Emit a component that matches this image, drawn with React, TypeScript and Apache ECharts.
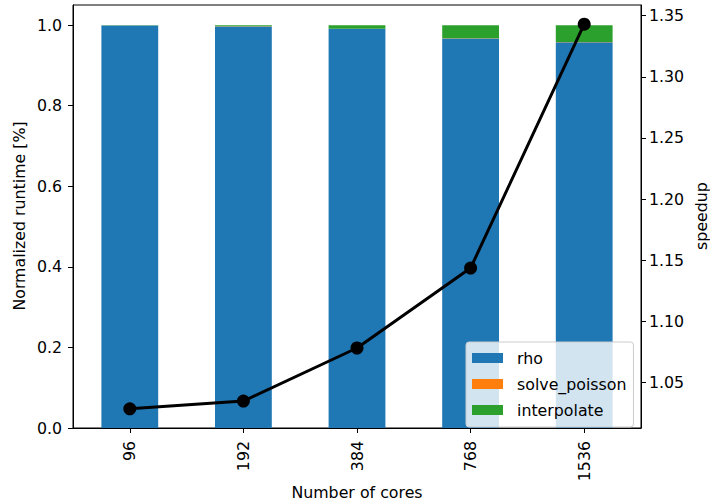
import React, { useEffect, useRef } from "react";
import * as echarts from "echarts";

const cores = ["96", "192", "384", "768", "1536"];
const rho = [0.999, 0.9968, 0.9908, 0.967, 0.9575];
const solvePoisson = [0.0002, 0.0002, 0.0003, 0.0004, 0.0004];
const interpolate = [0.0008, 0.003, 0.0089, 0.0326, 0.0421];
const speedup = [1.0285, 1.0348, 1.0782, 1.1436, 1.343];
const leftTicks = [0, 0.2, 0.4, 0.6, 0.8, 1.0];
const rightTicks = [1.05, 1.1, 1.15, 1.2, 1.25, 1.3, 1.35];

const FONT = "DejaVu Sans";

export default function App() {
  const ref = useRef<HTMLDivElement>(null);
  useEffect(() => {
    if (!ref.current) return;
    const chart = echarts.init(ref.current, null, { renderer: "svg" });
    const sMin = Math.min(...speedup);
    const sMax = Math.max(...speedup);
    const pad = (sMax - sMin) * 0.05;
    const tick = { show: true, length: 5, lineStyle: { color: "#000", width: 1 } };
    const label = { color: "#000", fontFamily: FONT, fontSize: 15.8 };
    const font = `15.8px "${FONT}"`;
    chart.setOption({
      animation: false,
      backgroundColor: "#fff",
      textStyle: { fontFamily: FONT },
      grid: {
        left: 73,
        right: 69,
        top: 5,
        bottom: 75,
        show: true,
        borderColor: "#000",
        borderWidth: 1,
        backgroundColor: "transparent",
        containLabel: false,
        outerBoundsMode: "none",
      },
      legend: {
        data: ["rho", "solve_poisson", "interpolate"],
        orient: "vertical",
        left: 466,
        top: 342,
        itemWidth: 31,
        itemHeight: 10,
        itemGap: 10,
        padding: [8, 7, 9, 6],
        backgroundColor: "rgba(255,255,255,0.8)",
        borderColor: "#cccccc",
        borderWidth: 1,
        borderRadius: 3,
        icon: "rect",
        textStyle: { ...label, lineHeight: 14, padding: [0, 0, 0, 9] },
        selectedMode: false,
      },
      graphic: [
        {
          type: "text",
          x: 701,
          y: 216,
          rotation: Math.PI / 2,
          style: { text: "speedup", fill: "#000", font, align: "center", verticalAlign: "middle" },
        },
        {
          type: "text",
          x: 357,
          y: 492,
          style: { text: "Number of cores", fill: "#000", font, align: "center", verticalAlign: "middle" },
        },
        {
          type: "text",
          x: 19,
          y: 216,
          rotation: Math.PI / 2,
          style: { text: "Normalized runtime [%]", fill: "#000", font, align: "center", verticalAlign: "middle" },
        },
      ],
      xAxis: {
        type: "category",
        data: cores,
        boundaryGap: true,
        axisLine: { show: true, lineStyle: { color: "#000", width: 1 } },
        axisTick: { ...tick, alignWithLabel: true },
        axisLabel: { ...label, rotate: 90, margin: 13 },
        splitLine: { show: false },
      },
      yAxis: [
        {
          type: "value",
          min: 0,
          max: 1.05,
          axisLine: { show: true, lineStyle: { color: "#000", width: 1 } },
          axisTick: { ...tick, customValues: leftTicks },
          axisLabel: {
            ...label,
            margin: 11,
            customValues: leftTicks,
            formatter: (v: number) => v.toFixed(1),
          },
          splitLine: { show: false },
        },
        {
          type: "value",
          position: "right",
          min: sMin - pad,
          max: sMax + pad,
          axisLine: { show: true, lineStyle: { color: "#000", width: 1 } },
          axisTick: { ...tick, customValues: rightTicks },
          axisLabel: {
            ...label,
            margin: 8,
            customValues: rightTicks,
            formatter: (v: number) => v.toFixed(2),
          },
          splitLine: { show: false },
        },
      ],
      series: [
        {
          name: "rho",
          type: "bar",
          stack: "total",
          barWidth: "50%",
          itemStyle: { color: "#1f77b4" },
          data: rho,
        },
        {
          name: "solve_poisson",
          type: "bar",
          stack: "total",
          barWidth: "50%",
          itemStyle: { color: "#ff7f0e" },
          data: solvePoisson,
        },
        {
          name: "interpolate",
          type: "bar",
          stack: "total",
          barWidth: "50%",
          itemStyle: { color: "#2ca02c" },
          data: interpolate,
        },
        {
          name: "speedup",
          type: "line",
          yAxisIndex: 1,
          data: speedup,
          symbol: "circle",
          symbolSize: 13,
          lineStyle: { color: "#000", width: 3 },
          itemStyle: { color: "#000" },
          z: 5,
        },
      ],
    });
    return () => chart.dispose();
  }, []);
  return <div ref={ref} style={{ width: 710, height: 503, position: "absolute", left: 0, top: 0 }} />;
}
